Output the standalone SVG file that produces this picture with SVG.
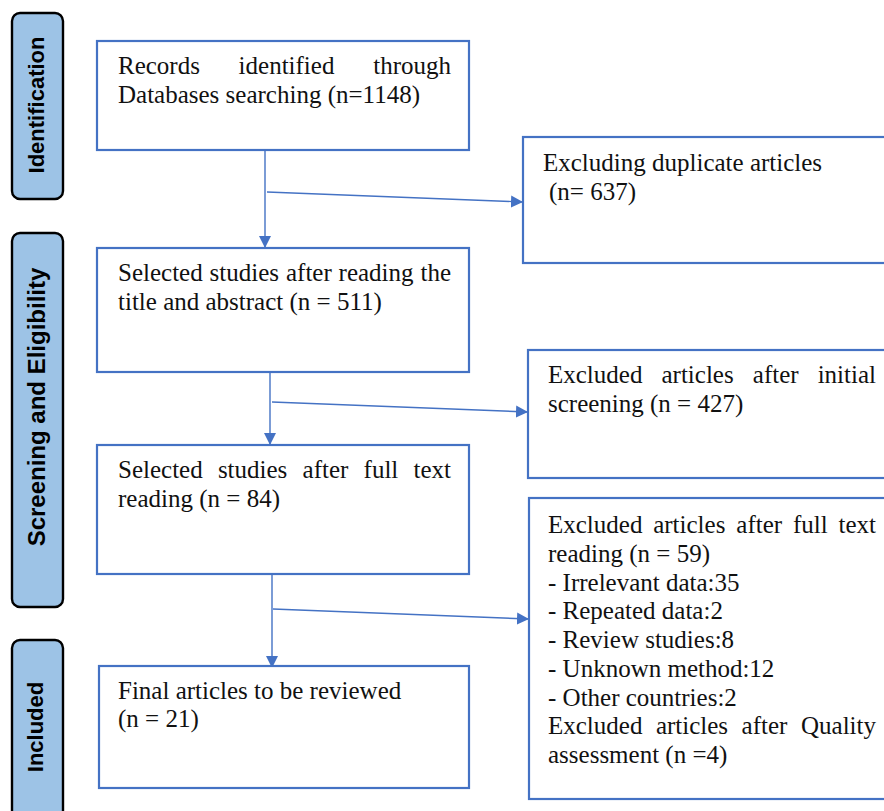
<svg xmlns="http://www.w3.org/2000/svg" width="884" height="811" viewBox="0 0 884 811">
<style>
.box{fill:#fff;stroke:#4472c4;stroke-width:2.2}
.side{fill:#9dc3e6;stroke:#000;stroke-width:2.4}
.t{font-family:"Liberation Serif","Times New Roman",serif;font-size:25px;fill:#111}
.e{text-anchor:end}
.s{font-family:"Liberation Sans",Arial,sans-serif;font-size:22px;font-weight:bold;fill:#000;text-anchor:middle}
.c{fill:none;stroke:#4472c4;stroke-width:1.4}
</style>
<defs>
<marker id="ah" markerUnits="userSpaceOnUse" markerWidth="13" markerHeight="13" viewBox="0 0 13 13" refX="12" refY="6.5" orient="auto">
<path d="M0,0.5 L12,6.5 L0,12.5 Z" fill="#4472c4"/>
</marker>
</defs>
<rect width="884" height="811" fill="#fff"/>

<g id="phase-identification">
<rect class="side" x="12" y="13" width="51" height="186" rx="8"/>
<text class="s" transform="translate(44,105) rotate(-90)">Identification</text>
</g>
<g id="phase-screening">
<rect class="side" x="12" y="233" width="51" height="374" rx="8"/>
<text class="s" style="font-size:24px" transform="translate(45,407) rotate(-90)">Screening and Eligibility</text>
</g>
<g id="phase-included">
<rect class="side" x="12" y="640" width="51" height="180" rx="8"/>
<text class="s" transform="translate(43,727) rotate(-90)">Included</text>
</g>

<g id="connectors">
<line class="c" x1="265" y1="146" x2="265" y2="248" marker-end="url(#ah)"/>
<line class="c" x1="267" y1="192" x2="523" y2="202" marker-end="url(#ah)"/>
<line class="c" x1="270" y1="365" x2="270" y2="445" marker-end="url(#ah)"/>
<line class="c" x1="272" y1="402" x2="528" y2="412" marker-end="url(#ah)"/>
<line class="c" x1="272" y1="568" x2="272" y2="668" marker-end="url(#ah)"/>
<line class="c" x1="273" y1="609" x2="529" y2="619" marker-end="url(#ah)"/>
</g>

<g id="records">
<rect class="box" x="97" y="41" width="372" height="109"/>
<text class="t" y="74"><tspan x="118">Records</tspan><tspan x="238.6">identified</tspan></text>
<text class="t e" x="451" y="74">through</text>
<text class="t" x="118" y="102.5">Databases searching (n=1148)</text>
</g>

<g id="duplicates">
<rect class="box" x="523" y="137" width="370" height="126"/>
<text class="t" x="543" y="171">Excluding duplicate articles</text>
<text class="t" x="549" y="199.5">(n= 637)</text>
</g>

<g id="title-abstract">
<rect class="box" x="97" y="248" width="372" height="124"/>
<text class="t" y="281"><tspan x="118">Selected</tspan><tspan x="209.6">studies</tspan><tspan x="286">after</tspan><tspan x="338.6">reading</tspan></text>
<text class="t e" x="451" y="281">the</text>
<text class="t" x="118" y="309.5">title and abstract (n = 511)</text>
</g>

<g id="excluded-initial">
<rect class="box" x="528" y="350" width="365" height="128"/>
<text class="t" y="383"><tspan x="548">Excluded</tspan><tspan x="661.5">articles</tspan><tspan x="752.8">after</tspan></text>
<text class="t e" x="876" y="383">initial</text>
<text class="t" x="548" y="411.5">screening (n = 427)</text>
</g>

<g id="full-text">
<rect class="box" x="97" y="445" width="372" height="129"/>
<text class="t" y="478"><tspan x="118">Selected</tspan><tspan x="217.9">studies</tspan><tspan x="302.6">after</tspan><tspan x="363.6">full</tspan></text>
<text class="t e" x="451" y="478">text</text>
<text class="t" x="118" y="506.5">reading (n = 84)</text>
</g>

<g id="excluded-full">
<rect class="box" x="529" y="498" width="365" height="301"/>
<text class="t" y="533"><tspan x="548">Excluded</tspan><tspan x="653.2">articles</tspan><tspan x="736.3">after</tspan><tspan x="793">full</tspan></text>
<text class="t e" x="876" y="533">text</text>
<text class="t" x="548" y="561.75">reading (n = 59)</text>
<text class="t" x="548" y="590.5">- Irrelevant data:35</text>
<text class="t" x="548" y="619.25">- Repeated data:2</text>
<text class="t" x="548" y="648">- Review studies:8</text>
<text class="t" x="548" y="676.75">- Unknown method:12</text>
<text class="t" x="548" y="705.5">- Other countries:2</text>
<text class="t" y="734.25"><tspan x="548">Excluded</tspan><tspan x="655.9">articles</tspan><tspan x="741.6">after</tspan></text>
<text class="t e" x="876" y="734.25">Quality</text>
<text class="t" x="548" y="763">assessment (n =4)</text>
</g>

<g id="final">
<rect class="box" x="99" y="666" width="370" height="122"/>
<text class="t" x="118" y="699">Final articles to be reviewed</text>
<text class="t" x="118" y="727">(n = 21)</text>
</g>
</svg>
